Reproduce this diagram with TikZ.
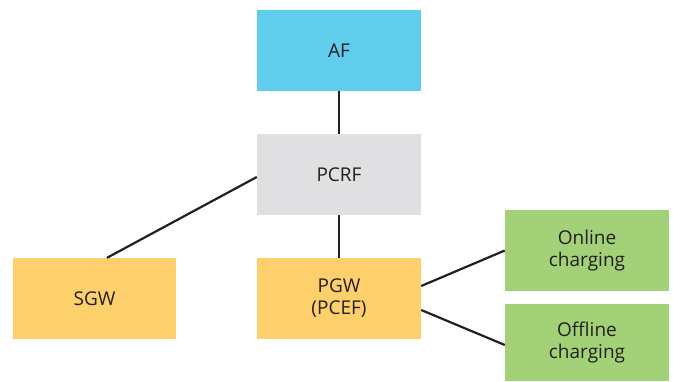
\documentclass[tikz,border=0pt]{standalone}
\usepackage{fontspec}
\setmainfont{Open Sans}
\definecolor{afblue}{RGB}{96,205,237}
\definecolor{pcrfgray}{RGB}{224,224,226}
\definecolor{gwyellow}{RGB}{253,208,107}
\definecolor{chggreen}{RGB}{163,209,119}
\definecolor{txtgray}{RGB}{35,31,32}
\tikzset
{
    netbox/.style  = {rectangle, align=center, inner sep=0pt, minimum width=164pt, minimum height=81pt, text=txtgray, font=\fontsize{19}{22}\selectfont},
    link/.style    = {draw=txtgray, line width=2.2pt}
}
\begin{document}
\begin{tikzpicture}[x=1pt,y=-1pt]
\useasboundingbox (0,0) rectangle (673,381);
\node [netbox, fill=afblue] at (339,50.5) (af) {AF};
\node [netbox, fill=pcrfgray] at (339,174.5) (pcrf) {PCRF};
\node [netbox, fill=gwyellow, minimum width=163pt] at (94.5,298.5) (sgw) {SGW};
\node [netbox, fill=gwyellow] at (339,298.5) (pgw) {PGW\\(PCEF)};
\node [netbox, fill=chggreen] at (587,250.5) (online) {Online\\charging};
\node [netbox, fill=chggreen, minimum height=77pt] at (587,342.5) (offline) {Offline\\charging};
\draw [link] (af) -- (pcrf);
\draw [link] (pcrf) -- (pgw);
\draw [link] ([xshift=12.5pt]sgw.north) -- ([yshift=-2.5pt]pcrf.west);
\draw [link] ([yshift=12.5pt]pgw.east) -- (online.west);
\draw [link] ([yshift=-11.5pt]pgw.east) -- ([yshift=-2.5pt]offline.west);
\end{tikzpicture}
\end{document}
